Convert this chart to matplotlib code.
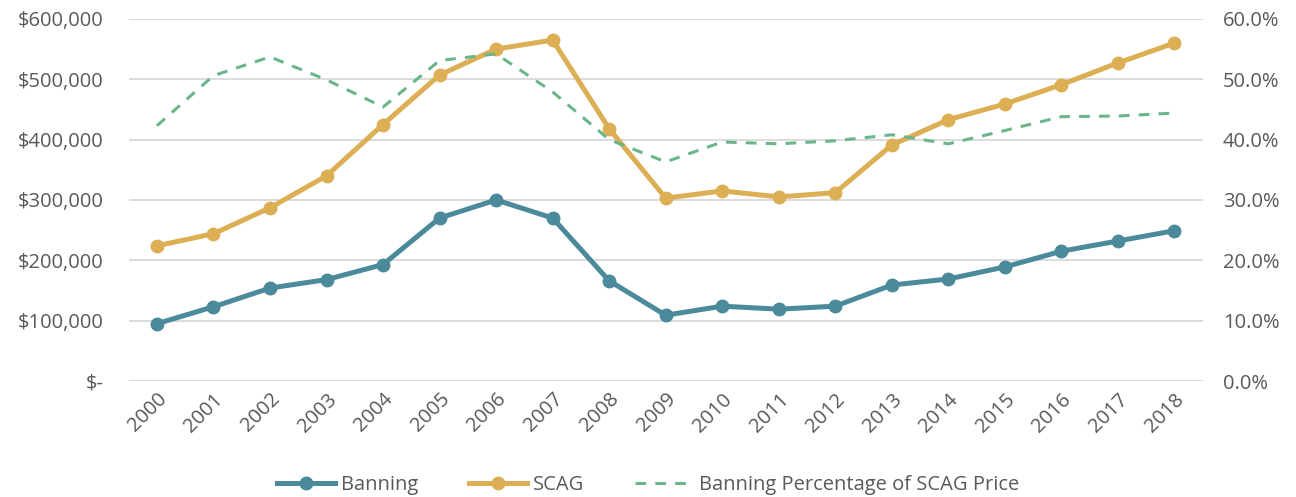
import matplotlib
matplotlib.use("Agg")
import matplotlib.pyplot as plt
from matplotlib.ticker import FuncFormatter

years = [str(y) for y in range(2000, 2019)]
banning = [95000, 123000, 154000, 168000, 193000, 270000, 300000, 270000, 166000, 109000,
           124000, 119000, 124000, 159000, 169000, 189000, 215000, 232000, 249000]
scag = [224000, 244000, 287000, 340000, 425000, 507000, 550000, 565000, 418000, 303000,
        315000, 305000, 312000, 391000, 433000, 459000, 491000, 527000, 560000]
pct = [0.423, 0.506, 0.537, 0.499, 0.454, 0.531, 0.542, 0.479, 0.400, 0.363,
       0.396, 0.393, 0.398, 0.408, 0.393, 0.415, 0.438, 0.439, 0.444]

plt.rcParams['font.family'] = ['Open Sans', 'DejaVu Sans']
txt = '#595959'
fs = 14.5

fig = plt.figure(figsize=(12.96, 4.97), dpi=100)
ax = fig.add_axes([0.0993, 0.2334, 0.8287, 0.7286])
ax2 = ax.twinx()

x = list(range(len(years)))
l1, = ax.plot(x, banning, color='#4A8A9A', lw=3.6, marker='o', ms=9, label='Banning', zorder=3)
l2, = ax.plot(x, scag, color='#DDAF55', lw=3.6, marker='o', ms=9, label='SCAG', zorder=3)
l3, = ax2.plot(x, pct, color='#6BB58A', lw=2.2, ls=(0, (3.5, 3)), label='Banning Percentage of SCAG Price')

ax.set_xlim(-0.5, len(years) - 0.5)
ax.set_ylim(0, 600000)
ax2.set_ylim(0, 0.6)
ax.set_yticks(range(0, 600001, 100000))
ax2.set_yticks([i / 10 for i in range(7)])
ax.yaxis.set_major_formatter(FuncFormatter(lambda v, p: '$-' if v == 0 else f'${v:,.0f}'))
ax2.yaxis.set_major_formatter(FuncFormatter(lambda v, p: f'{v*100:.1f}%'))
ax.set_xticks(x)
ax.set_xticklabels(years, rotation=45, ha='right', rotation_mode='anchor')

ax.grid(axis='y', color='#d9d9d9', lw=1.3)
ax.set_axisbelow(True)
for a in (ax, ax2):
    for s in a.spines.values():
        s.set_visible(False)
    a.tick_params(length=0, colors=txt, labelsize=fs)
ax.tick_params(axis='y', pad=18)
ax2.tick_params(axis='y', pad=14.5)
ax.tick_params(axis='x', pad=6)

fig.legend(handles=[l1, l2, l3], loc='center', bbox_to_anchor=(0.5, 0.024), ncol=3,
           frameon=False, fontsize=fs, labelcolor=txt, handlelength=2.9,
           columnspacing=2.5, handletextpad=0.3)

fig.savefig('out.png', dpi=100)
